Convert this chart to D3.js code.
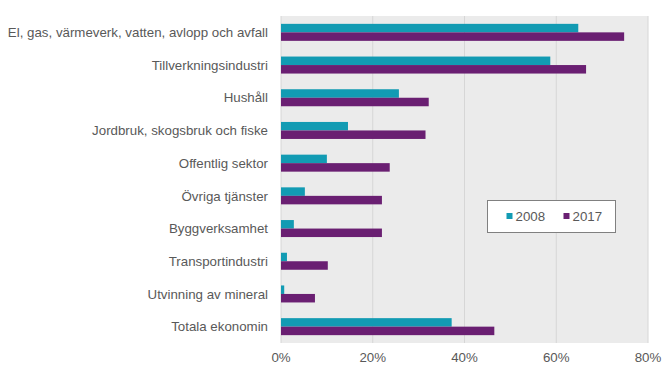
<!DOCTYPE html>
<html>
<head>
<meta charset="utf-8">
<script src="https://cdn.jsdelivr.net/npm/d3@7"></script>
<style>
  body { margin: 0; background: #fff; }
  text { font-family: "Liberation Sans", Arial, sans-serif; fill: #595959; }
</style>
</head>
<body>
<svg id="chart" width="669" height="379"></svg>
<script>
'use strict';

const categories = [
  'El, gas, värmeverk, vatten, avlopp och avfall',
  'Tillverkningsindustri',
  'Hushåll',
  'Jordbruk, skogsbruk och fiske',
  'Offentlig sektor',
  'Övriga tjänster',
  'Byggverksamhet',
  'Transportindustri',
  'Utvinning av mineral',
  'Totala ekonomin',
];
const series = ['2008', '2017'];
const values2008 = [64.8, 58.7, 25.7, 14.6, 10.0, 5.2, 2.8, 1.3, 0.7, 37.2];
const values2017 = [74.8, 66.5, 32.2, 31.5, 23.7, 22.0, 22.0, 10.2, 7.4, 46.5];
const ticks = [0, 20, 40, 60, 80];
const colors = ['#129bb3', '#6a1f72'];

const svg = d3.select('#chart');
const pLeft = 281, pRight = 648, pTop = 16, pBottom = 343;
const fs = '13.3px';

const x = d3.scaleLinear().domain([0, 80]).range([pLeft, pRight]);
const y = d3.scaleBand().domain(categories).range([pTop, pBottom]).paddingInner(0.48).paddingOuter(0.24);
const sub = d3.scaleBand().domain(series).range([0, y.bandwidth()]);

// plot background
svg.append('rect')
  .attr('x', pLeft).attr('y', pTop)
  .attr('width', pRight - pLeft).attr('height', pBottom - pTop)
  .attr('fill', '#ebebeb');

// gridlines
svg.append('g')
  .selectAll('line')
  .data(ticks)
  .join('line')
  .attr('x1', d => x(d)).attr('x2', d => x(d))
  .attr('y1', pTop).attr('y2', pBottom)
  .attr('stroke', '#d6d6d6')
  .attr('stroke-width', 1);

// bars
[values2008, values2017].map((vals, idx) => {
  svg.append('g')
    .selectAll('rect')
    .data(vals)
    .join('rect')
    .attr('x', x(0))
    .attr('y', (d, i) => y(categories[i]) + sub(series[idx]))
    .attr('width', d => x(d) - x(0))
    .attr('height', sub.bandwidth())
    .attr('fill', colors[idx]);
});

// category labels
svg.append('g')
  .selectAll('text')
  .data(categories)
  .join('text')
  .attr('x', 268)
  .attr('y', d => y(d) + y.bandwidth() / 2)
  .attr('dy', '0.35em')
  .attr('text-anchor', 'end')
  .attr('font-size', fs)
  .text(d => d);

// x axis labels
svg.append('g')
  .selectAll('text')
  .data(ticks)
  .join('text')
  .attr('x', d => x(d))
  .attr('y', 362)
  .attr('text-anchor', 'middle')
  .attr('font-size', fs)
  .text(d => d + '%');

// legend
const lg = svg.append('g').attr('transform', 'translate(487.5,200.5)');
lg.append('rect')
  .attr('width', 128).attr('height', 32)
  .attr('fill', '#fff').attr('stroke', '#808080');
series.map((s, idx) => {
  const g = lg.append('g').attr('transform', `translate(${19 + idx * 57},0)`);
  g.append('rect')
    .attr('x', 0).attr('y', 12.5)
    .attr('width', 6).attr('height', 6)
    .attr('fill', colors[idx]);
  g.append('text')
    .attr('x', 9).attr('y', 16)
    .attr('dy', '0.35em')
    .attr('font-size', fs)
    .text(s);
});
</script>
</body>
</html>
